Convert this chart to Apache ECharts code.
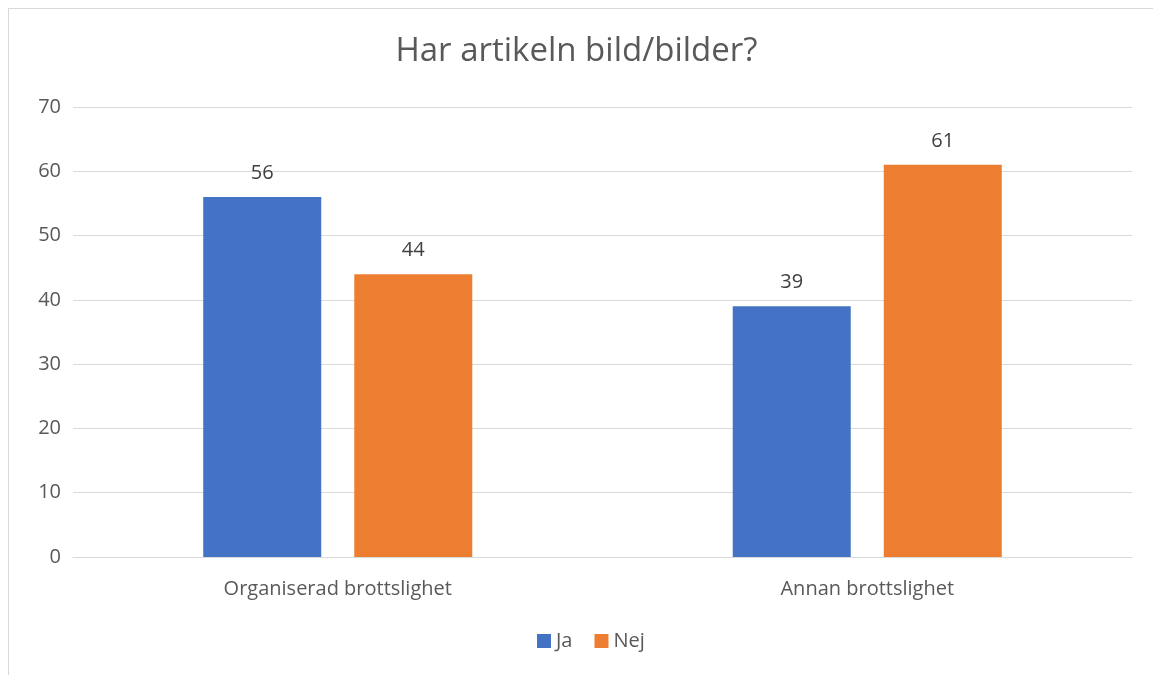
<!DOCTYPE html>
<html>
<head>
<meta charset="utf-8">
<script src="https://cdn.jsdelivr.net/npm/echarts@6/dist/echarts.min.js"></script>
<style>
  html, body { margin: 0; padding: 0; background: #fff; }
  #frame {
    position: absolute; left: 8px; top: 8px; width: 1160px; height: 680px;
    border: 1px solid #d9d9d9; box-sizing: border-box;
  }
  #chart { position: absolute; left: 0; top: 0; width: 1153px; height: 675px; }
</style>
</head>
<body>
<div id="frame"></div>
<div id="chart"></div>
<script>
const categories = ["Organiserad brottslighet", "Annan brottslighet"];
const jaValues = [56, 39];
const nejValues = [44, 61];

const textColor = "#595959";
const font = "'Open Sans', 'Liberation Sans', sans-serif";

let myChart = echarts.init(document.getElementById("chart"));
const options = {
  textStyle: { fontFamily: font },
  title: {
    text: "Har artikeln bild/bilder?",
    left: "center",
    top: 30,
    textStyle: { color: textColor, fontSize: 33, fontWeight: "normal", fontFamily: font },
  },
  legend: {
    data: ["Ja", "Nej"],
    bottom: 19,
    left: 532,
    itemWidth: 14,
    itemHeight: 14,
    itemGap: 22,
    itemTextGap: 5,
    icon: "rect",
    textStyle: { color: textColor, fontSize: 20, fontFamily: font },
  },
  grid: { left: 73, right: 21, top: 107, bottom: 118 },
  xAxis: {
    type: "category",
    data: categories,
    axisLine: { lineStyle: { color: "#d9d9d9", width: 1 } },
    axisTick: { show: false },
    axisLabel: { color: textColor, fontSize: 20, margin: 22, fontFamily: font },
  },
  yAxis: {
    type: "value",
    min: 0,
    max: 70,
    interval: 10,
    axisLine: { show: false },
    axisTick: { show: false },
    axisLabel: { color: textColor, fontSize: 20, margin: 12, fontFamily: font },
    splitLine: { lineStyle: { color: "#d9d9d9", width: 1 } },
  },
  series: [
    {
      name: "Ja",
      type: "bar",
      data: jaValues,
      barWidth: 118,
      barGap: "28%",
      itemStyle: { color: "#4472C4" },
      label: { show: true, position: "top", distance: 14, color: "#404040", fontSize: 20, fontFamily: font },
    },
    {
      name: "Nej",
      type: "bar",
      data: nejValues,
      barWidth: 118,
      itemStyle: { color: "#ED7D31" },
      label: { show: true, position: "top", distance: 14, color: "#404040", fontSize: 20, fontFamily: font },
    },
  ],
};
myChart.setOption(options);
</script>
</body>
</html>
